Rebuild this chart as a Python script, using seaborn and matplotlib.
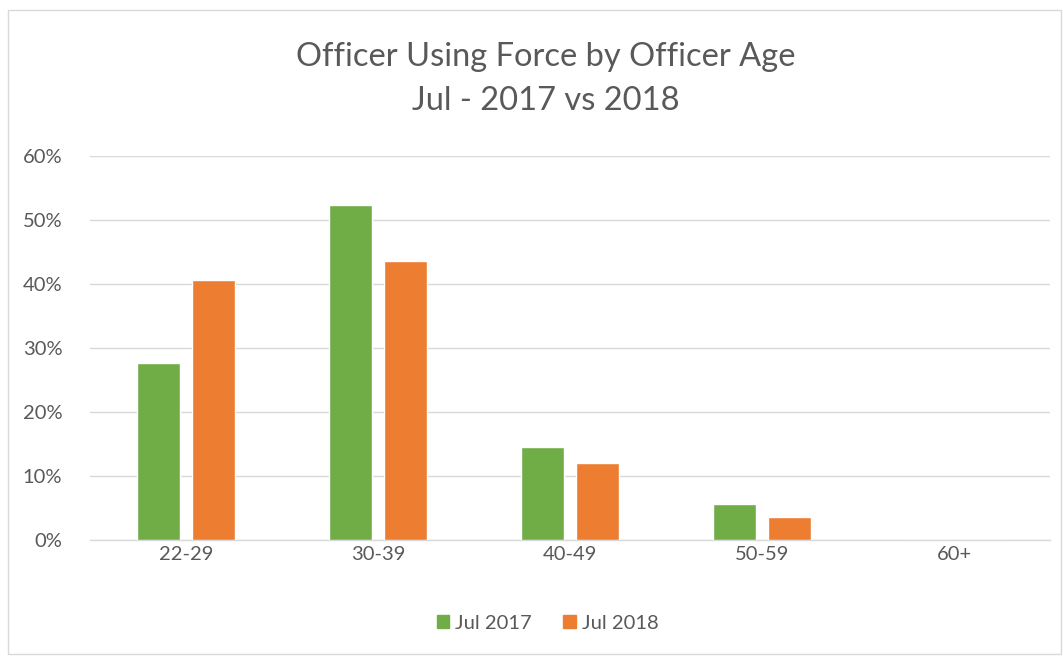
import matplotlib
matplotlib.use("Agg")
import matplotlib.pyplot as plt
from matplotlib.patches import Rectangle
from matplotlib.ticker import PercentFormatter
import seaborn as sns
import pandas as pd

age_groups = ["22-29", "30-39", "40-49", "50-59", "60+"]
jul_2017 = [0.276, 0.523, 0.145, 0.056, 0.0]
jul_2018 = [0.406, 0.436, 0.121, 0.036, 0.0]
series = ["Jul 2017", "Jul 2018"]
colors = ["#70AD47", "#ED7D31"]

data = pd.DataFrame({
    "age": age_groups * 2,
    "share": jul_2017 + jul_2018,
    "period": [series[0]] * len(age_groups) + [series[1]] * len(age_groups),
})

sns.set_theme(style="white")
plt.rcParams["font.family"] = ["Lato", "DejaVu Sans"]
text_color = "#595959"

fig = plt.figure(figsize=(10.63, 6.56), dpi=100)
ax = fig.add_axes([0.0847, 0.1768, 0.9031, 0.5854])

sns.barplot(data=data, x="age", y="share", hue="period", hue_order=series,
            palette=colors, order=age_groups, width=0.568, gap=0.21,
            saturation=1, ax=ax, zorder=3)

ax.set_ylim(0, 0.6)
ax.set_yticks([0, 0.1, 0.2, 0.3, 0.4, 0.5, 0.6])
ax.yaxis.set_major_formatter(PercentFormatter(1.0, decimals=0))
ax.grid(axis="y", color="#D9D9D9", linewidth=1, zorder=0)
ax.set_axisbelow(True)
for s in ["top", "right", "left"]:
    ax.spines[s].set_visible(False)
ax.spines["bottom"].set_color("#D9D9D9")
ax.spines["bottom"].set_linewidth(1)
ax.set_xlabel("")
ax.set_ylabel("")
ax.tick_params(axis="both", length=0, labelsize=14.5, labelcolor=text_color)
ax.tick_params(axis="y", pad=20)
ax.tick_params(axis="x", pad=4)

ax.legend_.remove()
handles = [Rectangle((0, 0), 1, 1, color=c) for c in colors]
fig.legend(handles, series, loc="center", bbox_to_anchor=(0.515, 0.05), ncol=2,
           frameon=False, fontsize=14.5, labelcolor=text_color,
           handlelength=0.6, handleheight=0.6, handletextpad=0.3, columnspacing=1.6)

fig.text(0.513, 1 - 57 / 656, "Officer Using Force by Officer Age", ha="center",
         va="center", fontsize=23.5, color=text_color)
fig.text(0.513, 1 - 101 / 656, "Jul - 2017 vs 2018", ha="center",
         va="center", fontsize=23.5, color=text_color)

fig.patches.append(Rectangle((8 / 1063, 2 / 656), 1 - 10 / 1063, 1 - 12 / 656,
                             transform=fig.transFigure, fill=False,
                             edgecolor="#D9D9D9", linewidth=1))

fig.savefig("out.png", dpi=100)
